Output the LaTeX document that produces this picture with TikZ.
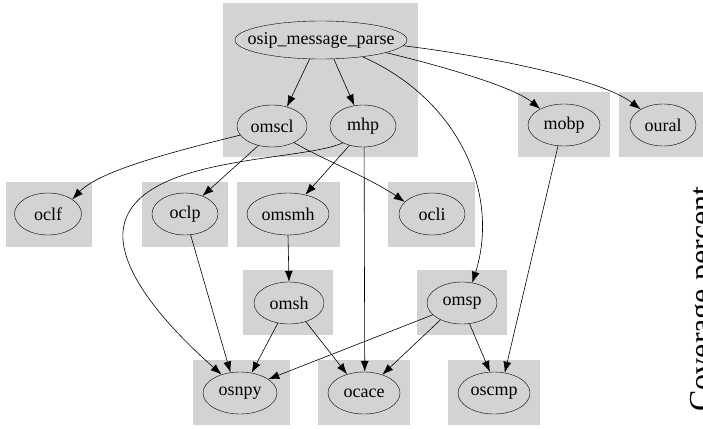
\documentclass[tikz,border=0pt]{standalone}
\usepackage{fontspec}
\setmainfont{Liberation Serif}
\usetikzlibrary{shapes.geometric,arrows.meta}

\definecolor{clustergray}{RGB}{211,211,211}
\tikzstyle{func} = [draw, ellipse, minimum height=42pt, inner xsep=-13pt, inner ysep=0pt, font=\fontsize{18}{18}\selectfont]
\tikzstyle{cluster} = [fill=clustergray]
\tikzstyle{call} = [draw, -{Latex[length=11pt,width=8pt]}, line width=0.6pt]

\begin{document}
\begin{tikzpicture}[x=1pt,y=-1pt]
	\useasboundingbox (0,0) rectangle (703,428);
	
	% grey boxes
	\fill[cluster] (223,3) rectangle (418,157);
	\fill[cluster] (518,92) rectangle (610,157); \fill[cluster] (619,92) rectangle (703,157);
	\fill[cluster] (6,182) rectangle (92,247); \fill[cluster] (142,182) rectangle (228,247);
	\fill[cluster] (237,182) rectangle (340,247); \fill[cluster] (388,182) rectangle (475,247);
	\fill[cluster] (243,270) rectangle (333,335); \fill[cluster] (417,270) rectangle (507,335);
	\fill[cluster] (193,360) rectangle (290,425); \fill[cluster] (318,360) rectangle (410,425);
	\fill[cluster] (448,360) rectangle (540,425);
	
	% functions
	\node[func, minimum width=172pt, minimum height=38pt] (osip) at (321,40) {osip\_message\_parse};
	\node[func, minimum width=70pt] (omscl) at (272,126) {omscl};
	\node[func, minimum width=66pt] (mhp) at (363,126) {mhp};
	\node[func, minimum width=72pt] (mobp) at (564,125) {mobp};
	\node[func, minimum width=66pt] (oural) at (663,125) {oural};
	
	\node[func, minimum width=67pt] (oclf) at (48,214) {oclf};
	\node[func, minimum width=66pt] (oclp) at (185,214) {oclp};
	\node[func, minimum width=82pt] (omsmh) at (288,214) {omsmh};
	\node[func, minimum width=66pt] (ocli) at (432,214) {ocli};
	
	\node[func, minimum width=70pt] (omsh) at (289,303) {omsh};
	\node[func, minimum width=70pt] (omsp) at (462,303) {omsp};
	
	\node[func, minimum width=74pt] (osnpy) at (240,393) {osnpy};
	\node[func, minimum width=72pt] (ocace) at (364,393) {ocace};
	\node[func, minimum width=72pt] (oscmp) at (494,393) {oscmp};
	
	% calls
	\draw[call] (osip.-121) -- (omscl.52);
	\draw[call] (osip.-56) -- (mhp.113);
	\draw[call] (osip.-22) .. controls (460,100) and (500,195) .. (omsp.63);
	\draw[call] (osip.-11) .. controls (450,68) and (515,88) .. (mobp.146);
	\draw[call] (osip.-4) .. controls (480,55) and (600,78) .. (oural.145);
	
	\draw[call] (omscl.-164) .. controls (180,150) and (100,170) .. (oclf.31);
	\draw[call] (omscl.-125) -- (oclp.46);
	\draw[call] (omscl.-37) .. controls (320,158) and (370,178) .. (ocli.156);
	
	\draw[call] (mhp.-125) -- (omsmh.48);
	\draw[call] (mhp.-87) -- (ocace.88);
	\draw[call] (mhp.-140) .. controls (300,162) and (140,155) .. (124,225) .. controls (115,265) and (160,320) .. (osnpy.135);
	\draw[call] (mobp.-106) -- (oscmp.62);
	
	\draw[call] (oclp.-75) -- (osnpy.115);
	\draw[call] (omsmh.south) -- (omsh.north);
	
	\draw[call] (omsh.-119) -- (osnpy.60);
	\draw[call] (omsh.-48) -- (ocace.132);
	\draw[call] (omsp.-158) -- (osnpy.26);
	\draw[call] (omsp.-142) -- (ocace.45);
	\draw[call] (omsp.-70) -- (oscmp.101);
	
	\node[rotate=90, anchor=base west, font=\fontsize{32}{32}\selectfont] (legend) at (711,415) {Coverage percent};
	
\end{tikzpicture}
\end{document}
